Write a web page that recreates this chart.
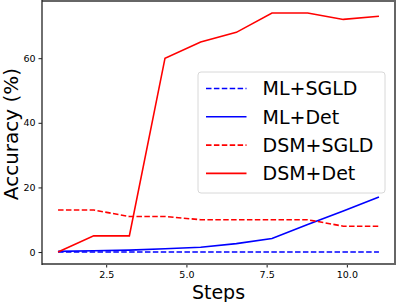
<!DOCTYPE html>
<html>
<head>
<meta charset="utf-8">
<script src="https://cdn.jsdelivr.net/npm/d3@7"></script>
<style>
  body { margin: 0; background: #fff; }
  svg { display: block; font-family: 'DejaVu Sans', sans-serif; }
</style>
</head>
<body>
<div id="container"></div>
<script>
const steps = [1, 2.111, 3.222, 4.333, 5.444, 6.556, 7.667, 8.778, 9.889, 11];
const mlSgld = [0, 0, 0, 0, 0, 0, 0, 0, 0, 0];
const mlDet = [0.2, 0.4, 0.6, 1.0, 1.5, 2.6, 4.2, 8.5, 12.7, 17];
const dsmSgld = [13, 13, 11, 11, 10, 10, 10, 10, 8, 8];
const dsmDet = [0, 5, 5, 60, 65, 68, 74, 74, 72, 73];
const xTicks = [2.5, 5.0, 7.5, 10.0];
const yTicks = [0, 20, 40, 60];

const series = [
  { name: 'ML+SGLD', values: mlSgld, color: '#0000ff', dash: '5.5,2.4' },
  { name: 'ML+Det', values: mlDet, color: '#0000ff', dash: null },
  { name: 'DSM+SGLD', values: dsmSgld, color: '#ff0000', dash: '5.5,2.4' },
  { name: 'DSM+Det', values: dsmDet, color: '#ff0000', dash: null },
];

const WIDTH = 396;
const HEIGHT = 302;
const margin = { top: 1, right: 1, bottom: 38, left: 42 };

const svg = d3
  .select('#container')
  .append('svg')
  .attr('width', WIDTH)
  .attr('height', HEIGHT);

const x = d3
  .scaleLinear()
  .domain([0.5, 11.5])
  .range([margin.left, WIDTH - margin.right]);

const y = d3
  .scaleLinear()
  .domain([-3.7, 77.7])
  .range([HEIGHT - margin.bottom, margin.top]);

const line = d3
  .line()
  .x((d, i) => x(steps[i]))
  .y((d) => y(d));

svg
  .selectAll('path.series')
  .data(series)
  .enter()
  .append('path')
  .attr('class', 'series')
  .attr('d', (d) => line(d.values))
  .attr('fill', 'none')
  .attr('stroke', (d) => d.color)
  .attr('stroke-width', 1.6)
  .attr('stroke-dasharray', (d) => d.dash);

// axes
const xAxis = svg
  .append('g')
  .attr('transform', `translate(0, ${HEIGHT - margin.bottom})`)
  .call(
    d3
      .axisBottom(x)
      .tickValues(xTicks)
      .tickFormat(d3.format('.1f'))
      .tickSize(3.5)
      .tickPadding(4)
  );

const yAxis = svg
  .append('g')
  .attr('transform', `translate(${margin.left}, 0)`)
  .call(
    d3
      .axisLeft(y)
      .tickValues(yTicks)
      .tickSize(3.5)
      .tickPadding(3)
  );

[xAxis, yAxis].forEach((g) => {
  g.select('.domain').remove();
  g.selectAll('text')
    .attr('fill', '#000')
    .style('font-size', '9.5px')
    .style('font-family', 'DejaVu Sans');
  g.selectAll('line').attr('stroke', '#000').attr('stroke-width', 0.9);
});

// frame: matplotlib-like spines
const x0 = margin.left;
const x1 = WIDTH - margin.right;
const y0 = margin.top;
const y1 = HEIGHT - margin.bottom;
svg
  .append('path')
  .attr('d', `M${x0},${y0}H${x1}V${y1}H${x0}`)
  .attr('fill', 'none')
  .attr('stroke', '#666')
  .attr('stroke-width', 2);
svg
  .append('line')
  .attr('x1', x0)
  .attr('x2', x0)
  .attr('y1', y0 - 1)
  .attr('y2', y1 + 1)
  .attr('stroke', '#222')
  .attr('stroke-width', 1.3);

svg
  .append('text')
  .attr('x', (x0 + x1) / 2)
  .attr('y', 299)
  .attr('text-anchor', 'middle')
  .style('font-size', '19px')
  .text('Steps');

svg
  .append('text')
  .attr('transform', `translate(17.5, 134) rotate(-90)`)
  .attr('text-anchor', 'middle')
  .style('font-size', '20px')
  .text('Accuracy (%)');

// legend
const legend = svg.append('g').attr('transform', 'translate(198, 72)');

legend
  .append('rect')
  .attr('width', 187)
  .attr('height', 121)
  .attr('rx', 3)
  .attr('fill', '#fff')
  .attr('fill-opacity', 0.8)
  .attr('stroke', '#d8d8d8')
  .attr('stroke-width', 1);

const legendItem = legend
  .selectAll('g.item')
  .data(series)
  .enter()
  .append('g')
  .attr('class', 'item')
  .attr('transform', (d, i) => `translate(0, ${16.5 + i * 28.3})`);

legendItem
  .append('line')
  .attr('x1', 8)
  .attr('x2', 48.5)
  .attr('stroke', (d) => d.color)
  .attr('stroke-width', 1.6)
  .attr('stroke-dasharray', (d) => d.dash);

legendItem
  .append('text')
  .attr('x', 64.5)
  .attr('y', 6.8)
  .style('font-size', '19px')
  .text((d) => d.name);
</script>
</body>
</html>
